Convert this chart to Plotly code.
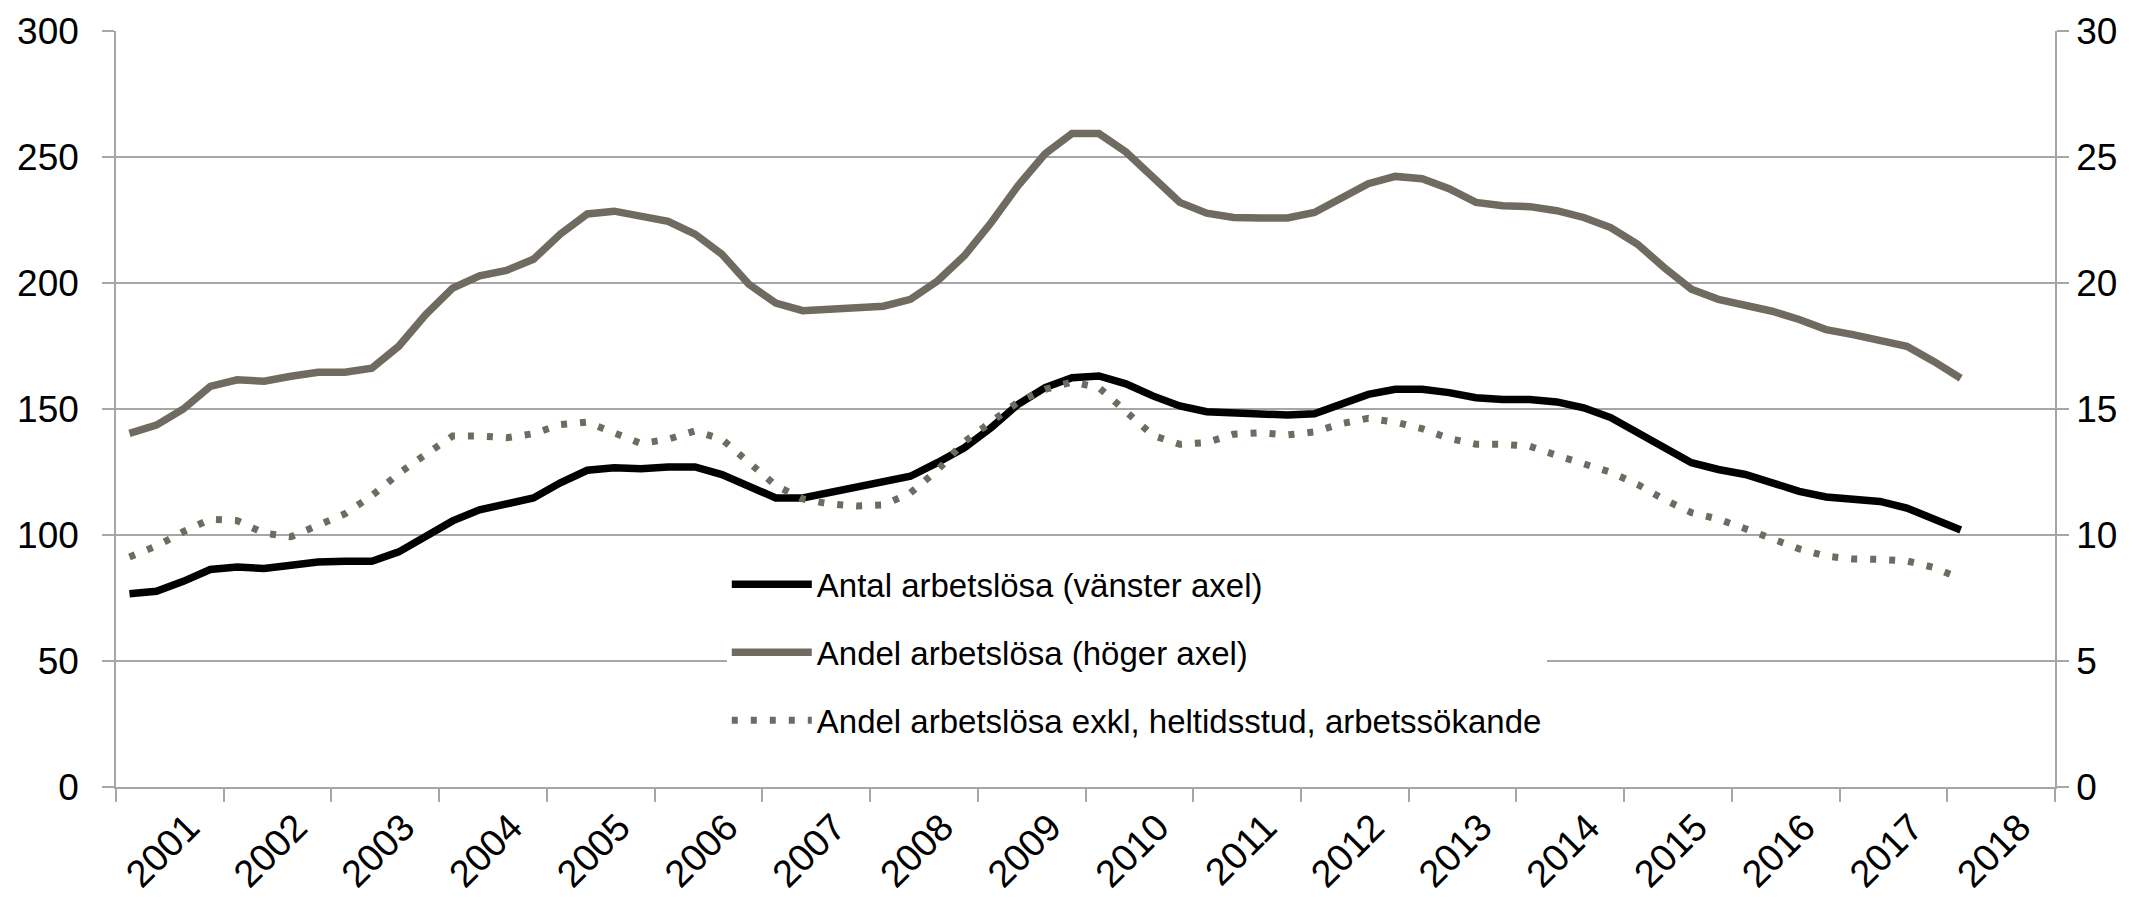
import plotly.graph_objects as go

# ---- data (quarterly, 2001 Q1 - 2018 Q1) ----
quarters = [f"{y}K{q}" for y in range(2001, 2019) for q in range(1, 5)][:69]

antal = [76.7, 77.7, 81.6, 86.3, 87.3, 86.7, 88.0, 89.3, 89.6, 89.6, 93.3, 99.3,
         105.6, 110.0, 112.0, 114.7, 120.7, 125.7, 126.7, 126.3, 127.0, 127.0, 124.0, 119.3,
         114.7, 114.7, 116.7, 119.3, 121.3, 123.3, 128.7, 134.6, 142.6, 151.9, 158.5, 162.4,
         163.1, 160.0, 155.2, 151.2, 148.9, 148.3, 148.1, 147.6, 148.1, 151.9, 155.8, 157.8,
         157.8, 156.5, 154.5, 153.8, 153.8, 152.8, 150.5, 146.6, 140.6, 134.0, 128.7, 126.0,
         124.0, 120.7, 117.3, 115.1, 114.0, 113.3, 110.7, 106.7, 102.0]

andel = [14.03, 14.36, 15.0, 15.9, 16.16, 16.1, 16.3, 16.46, 16.46, 16.62, 17.49, 18.75,
         19.8, 20.28, 20.5, 20.94, 21.94, 22.74, 22.85, 22.63, 22.45, 21.94, 21.14, 19.95,
         19.2, 18.9, 18.95, 19.0, 19.08, 19.35, 20.08, 21.08, 22.4, 23.87, 25.13, 25.93,
         25.93, 25.2, 24.2, 23.2, 22.77, 22.6, 22.58, 22.58, 22.8, 23.4, 23.94, 24.23,
         24.14, 23.74, 23.2, 23.07, 23.03, 22.87, 22.6, 22.2, 21.54, 20.6, 19.75, 19.35,
         19.15, 18.88, 18.55, 18.15, 17.95, 17.75, 17.49, 16.89, 16.22]

andel_exkl = [9.13, 9.56, 10.13, 10.63, 10.57, 10.07, 9.93, 10.36, 10.84, 11.56, 12.44, 13.2,
              13.93, 13.93, 13.86, 14.02, 14.38, 14.48, 14.02, 13.63, 13.8, 14.13, 13.8, 12.87,
              11.96, 11.43, 11.23, 11.15, 11.19, 11.67, 12.57, 13.7, 14.52, 15.28, 15.78, 16.07,
              15.85, 14.9, 13.95, 13.6, 13.67, 14.0, 14.06, 13.97, 14.09, 14.42, 14.63, 14.48,
              14.22, 13.83, 13.6, 13.6, 13.52, 13.16, 12.84, 12.49, 12.01, 11.4, 10.89, 10.63,
              10.25, 9.87, 9.45, 9.16, 9.05, 9.03, 8.97, 8.71, 8.27]

years = list(range(2001, 2019))
names = ["Antal arbetslösa (vänster axel)",
         "Andel arbetslösa (höger axel)",
         "Andel arbetslösa exkl, heltidsstud, arbetssökande"]

# position of each quarter on a continuous year scale (centre of the quarter)
x = [int(q[:4]) + (int(q[-1]) - 0.5) / 4 for q in quarters]

GRID = "#a6a6a6"
GREY = "#706b61"
FONT = "Arial, Liberation Sans, sans-serif"

fig = go.Figure()
fig.add_trace(go.Scatter(x=x, y=antal, name=names[0], mode="lines", legendgroup="a",
                         line=dict(color="#000000", width=7.5), yaxis="y"))
fig.add_trace(go.Scatter(x=x, y=andel, name=names[1], mode="lines", legendgroup="b",
                         line=dict(color=GREY, width=7.5), yaxis="y2"))
fig.add_trace(go.Scatter(x=x, y=andel_exkl, name=names[2], mode="lines", legendgroup="c",
                         line=dict(color=GREY, width=7, dash="6px,13px"), yaxis="y2"))

# the page body adds an 8px offset, so the figure is sized to fit the window
fig.update_layout(
    width=2125, height=891,
    margin=dict(l=108, r=78, t=23, b=112, autoexpand=False),
    paper_bgcolor="white", plot_bgcolor="white",
    font=dict(family=FONT, color="black"),
    showlegend=True,
    legend=dict(x=0.315, y=0.305, xanchor="left", yanchor="top",
                bgcolor="white", borderwidth=0,
                font=dict(size=33, family=FONT, color="black"),
                traceorder="grouped", tracegroupgap=22, itemwidth=80,
                entrywidth=890, entrywidthmode="pixels"),
    xaxis=dict(range=[2001, 2019], tickmode="array", automargin=False,
               tickvals=[yr + 0.67 for yr in years], ticktext=[str(yr) for yr in years],
               tickangle=-45, ticks="", tickfont=dict(size=38, family=FONT, color="black"),
               showgrid=False, zeroline=False, showline=True, linecolor=GRID, linewidth=1.5,
               ticklabelstandoff=1,
               minor=dict(tickmode="array", tickvals=list(range(2001, 2020)), ticks="outside",
                          ticklen=13, tickcolor=GRID, tickwidth=1.5, showgrid=False)),
    yaxis=dict(range=[0, 300], dtick=50, tick0=0, ticks="outside", ticklen=12, automargin=False,
               tickcolor=GRID, tickwidth=1.5, showgrid=True, gridcolor=GRID, gridwidth=1.5,
               zeroline=False, showline=True, linecolor=GRID, linewidth=1.5,
               tickfont=dict(size=37, family=FONT, color="black"), ticklabelstandoff=16),
    yaxis2=dict(range=[0, 30], dtick=5, tick0=0, overlaying="y", side="right", automargin=False,
                ticks="outside", ticklen=12, tickcolor=GRID, tickwidth=1.5,
                showgrid=False, zeroline=False, showline=True, linecolor=GRID, linewidth=1.5,
                tickfont=dict(size=37, family=FONT, color="black"), ticklabelstandoff=0),
)

fig.write_html("out.html")
